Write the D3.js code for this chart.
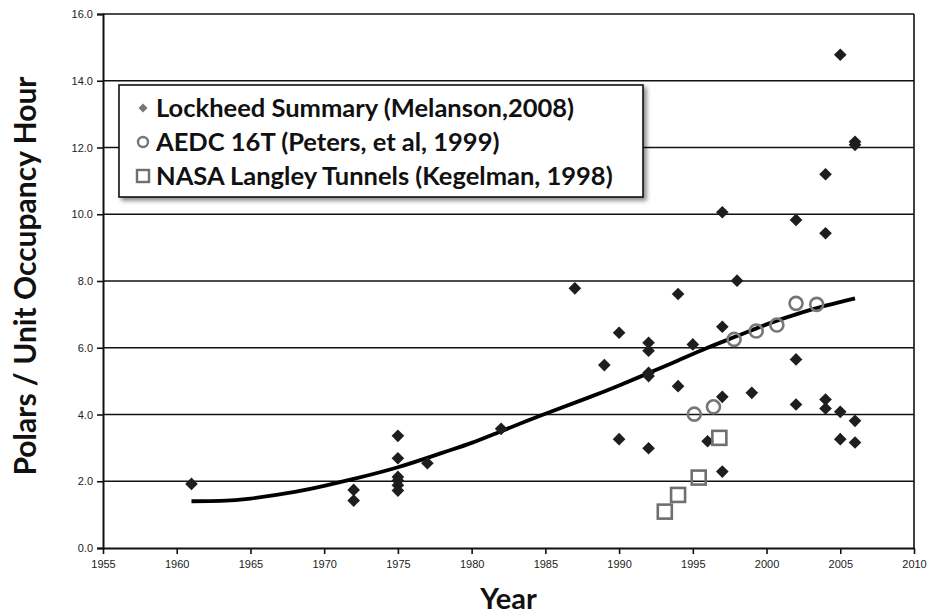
<!DOCTYPE html>
<html>
<head>
<meta charset="utf-8">
<script src="https://cdn.jsdelivr.net/npm/d3@7"></script>
<style>
  body { margin: 0; background: #fff; }
  svg { display: block; }
</style>
</head>
<body>
<script>
const margin = ({top: 14, right: 16, bottom: 67, left: 103})
const width = 930
const height = 615

// Lockheed Summary (Melanson, 2008)
const lockheedYears = [1961, 1972, 1972, 1975, 1975, 1975, 1975, 1975, 1975, 1977, 1982, 1987, 1989,
  1990, 1990, 1992, 1992, 1992, 1992, 1992, 1994, 1994, 1995, 1996, 1997, 1997, 1997, 1997, 1998, 1999,
  2002, 2002, 2002, 2004, 2004, 2004, 2004, 2005, 2005, 2005, 2006, 2006, 2006, 2006]
const lockheedValues = [1.92, 1.74, 1.42, 3.36, 2.69, 2.13, 2.02, 1.88, 1.72, 2.54, 3.57, 7.78, 5.48,
  6.45, 3.26, 6.15, 5.91, 5.25, 5.15, 2.99, 7.61, 4.85, 6.1, 3.2, 10.06, 6.63, 4.53, 2.29, 8.01, 4.65,
  9.83, 5.65, 4.3, 11.2, 9.43, 4.45, 4.18, 14.78, 4.08, 3.26, 12.17, 12.08, 3.81, 3.16]

// AEDC 16T (Peters, et al, 1999)
const aedcYears = [1995.1, 1996.4, 1997.8, 1999.3, 2000.7, 2002.0, 2003.4]
const aedcValues = [4.01, 4.23, 6.25, 6.5, 6.68, 7.33, 7.3]

// NASA Langley Tunnels (Kegelman, 1998)
const nasaYears = [1993.1, 1994.0, 1995.4, 1996.8]
const nasaValues = [1.09, 1.59, 2.11, 3.3]

// trend curve
const trendYears = [1961, 1963, 1965, 1968, 1970, 1972, 1975, 1978, 1980, 1982, 1985, 1988, 1990,
  1992, 1994, 1996, 1998, 2000, 2002, 2004, 2006]
const trendValues = [1.40, 1.41, 1.48, 1.68, 1.86, 2.07, 2.42, 2.85, 3.15, 3.50, 4.02, 4.52, 4.87,
  5.24, 5.62, 6.0, 6.35, 6.70, 7.0, 7.26, 7.48]

const xTicks = [1955, 1960, 1965, 1970, 1975, 1980, 1985, 1990, 1995, 2000, 2005, 2010]
const yTicks = [0, 2, 4, 6, 8, 10, 12, 14, 16]

const legendLabels = ["Lockheed Summary (Melanson,2008)", "AEDC 16T (Peters, et al, 1999)",
  "NASA Langley Tunnels (Kegelman, 1998)"]

const x = d3.scaleLinear()
    .domain([1955, 2010])
    .range([margin.left, width - margin.right])
const y = d3.scaleLinear()
    .domain([0, 16])
    .range([height - margin.bottom, margin.top])

const svg = d3.select("body").append("svg")
    .attr("viewBox", [0, 0, width, height])
    .attr("width", width)
    .attr("height", height)

const defs = svg.append("defs")
defs.append("filter").attr("id", "shadow")
    .attr("x", "-10%").attr("y", "-10%").attr("width", "130%").attr("height", "140%")
  .append("feDropShadow")
    .attr("dx", 3).attr("dy", 3).attr("stdDeviation", 2)
    .attr("flood-color", "#000").attr("flood-opacity", 0.45)

// gridlines
svg.append("g")
  .selectAll("line")
  .data(yTicks.filter(d => d > 0))
  .join("line")
    .attr("x1", margin.left).attr("x2", width - margin.right)
    .attr("y1", d => y(d)).attr("y2", d => y(d))
    .attr("stroke", "#111").attr("stroke-width", 1.6)

// right frame
svg.append("line")
    .attr("x1", width - margin.right).attr("x2", width - margin.right)
    .attr("y1", margin.top).attr("y2", height - margin.bottom)
    .attr("stroke", "#111").attr("stroke-width", 1.6)

const yAxis = g => g
    .attr("transform", `translate(${margin.left},0)`)
    .call(d3.axisLeft(y).tickValues(yTicks).tickFormat(d3.format(".1f")).tickSize(6).tickPadding(4))
    .call(g => g.select(".domain").attr("stroke", "#111").attr("stroke-width", 2))
    .call(g => g.selectAll(".tick line").attr("stroke", "#111").attr("stroke-width", 1.6))
    .call(g => g.selectAll("text").attr("font-family", "Arial, 'Liberation Sans', sans-serif")
        .attr("font-size", 11).attr("fill", "#222"))

const xAxis = g => g
    .attr("transform", `translate(0,${height - margin.bottom})`)
    .call(d3.axisBottom(x).tickValues(xTicks).tickFormat(d3.format("d")).tickSize(6).tickPadding(6).tickSizeOuter(0))
    .call(g => g.select(".domain").attr("stroke", "#111").attr("stroke-width", 2))
    .call(g => g.selectAll(".tick line").attr("stroke", "#111").attr("stroke-width", 1.6))
    .call(g => g.selectAll("text").attr("font-family", "Arial, 'Liberation Sans', sans-serif")
        .attr("font-size", 11).attr("fill", "#222"))

svg.append("g").call(xAxis)
svg.append("g").call(yAxis)

// trend line
svg.append("path")
    .datum(trendYears.map((d, i) => [d, trendValues[i]]))
    .attr("fill", "none")
    .attr("stroke", "#000")
    .attr("stroke-width", 3.8)
    .attr("d", d3.line().x(d => x(d[0])).y(d => y(d[1])).curve(d3.curveNatural))

// Lockheed diamonds
const diamond = d3.symbol().type(d3.symbolSquare).size(80)
svg.append("g")
  .selectAll("path")
  .data(lockheedYears.map((d, i) => [d, lockheedValues[i]]))
  .join("path")
    .attr("d", diamond)
    .attr("transform", d => `translate(${x(d[0])},${y(d[1])}) rotate(45)`)
    .attr("fill", "#1e1e1e")

// AEDC circles
svg.append("g")
  .selectAll("circle")
  .data(aedcYears.map((d, i) => [d, aedcValues[i]]))
  .join("circle")
    .attr("cx", d => x(d[0]))
    .attr("cy", d => y(d[1]))
    .attr("r", 6.5)
    .attr("fill", "none")
    .attr("stroke", "#777")
    .attr("stroke-width", 2.6)

// NASA squares
svg.append("g")
  .selectAll("rect")
  .data(nasaYears.map((d, i) => [d, nasaValues[i]]))
  .join("rect")
    .attr("x", d => x(d[0]) - 7)
    .attr("y", d => y(d[1]) - 7)
    .attr("width", 14)
    .attr("height", 14)
    .attr("fill", "none")
    .attr("stroke", "#6f6f6f")
    .attr("stroke-width", 2.6)

// legend
const legend = svg.append("g").attr("transform", "translate(119,85)")
legend.append("rect")
    .attr("width", 524).attr("height", 112)
    .attr("fill", "#fff").attr("stroke", "#111").attr("stroke-width", 1.6)
    .attr("filter", "url(#shadow)")

const rows = legend.selectAll("g.row")
  .data(legendLabels)
  .join("g")
    .attr("class", "row")
    .attr("transform", (d, i) => `translate(0,${23 + i * 34})`)

rows.append("text")
    .attr("x", 37).attr("dy", "0.36em")
    .attr("font-family", "Lato, 'Open Sans', sans-serif")
    .attr("font-weight", "bold")
    .attr("font-size", 25.5)
    .attr("fill", "#111")
    .text(d => d)

rows.filter((d, i) => i === 0).append("path")
    .attr("d", d3.symbol().type(d3.symbolSquare).size(40))
    .attr("transform", "translate(24,0) rotate(45)")
    .attr("fill", "#777")
rows.filter((d, i) => i === 1).append("circle")
    .attr("cx", 24).attr("r", 5)
    .attr("fill", "none").attr("stroke", "#777").attr("stroke-width", 2.4)
rows.filter((d, i) => i === 2).append("rect")
    .attr("x", 18).attr("y", -6).attr("width", 12).attr("height", 12)
    .attr("fill", "none").attr("stroke", "#6f6f6f").attr("stroke-width", 2.4)

// axis titles
svg.append("text")
    .attr("transform", `translate(36,276) rotate(-90)`)
    .attr("text-anchor", "middle")
    .attr("font-family", "Lato, 'Open Sans', sans-serif")
    .attr("font-weight", "bold")
    .attr("font-size", 30)
    .attr("fill", "#111")
    .text("Polars / Unit Occupancy Hour")

svg.append("text")
    .attr("x", (margin.left + width - margin.right) / 2)
    .attr("y", 609)
    .attr("text-anchor", "middle")
    .attr("font-family", "Lato, 'Open Sans', sans-serif")
    .attr("font-weight", "bold")
    .attr("font-size", 29)
    .attr("fill", "#111")
    .text("Year")
</script>
</body>
</html>
